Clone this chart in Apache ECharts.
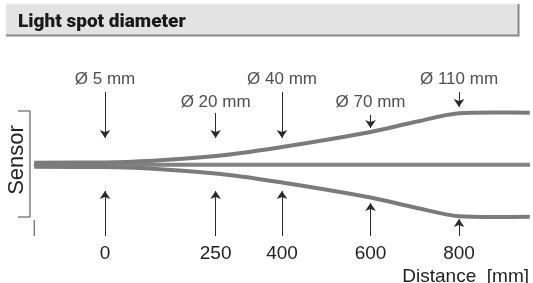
<!DOCTYPE html>
<html>
<head>
<meta charset="utf-8">
<script src="https://cdn.jsdelivr.net/npm/echarts@6/dist/echarts.min.js"></script>
<style>
  html, body { margin: 0; padding: 0; background: #fff; }
  #spot-chart { width: 533px; height: 283px; }
</style>
</head>
<body>
<div id="spot-chart"></div>
<script>
  // distance from sensor [mm] and half of the spot diameter [mm]
  const distance = [-160, 0, 250, 400, 600, 700, 800, 880, 960]
  const spotRadius = [2.2, 2.4, 9.2, 18.7, 34.5, 45, 54.2, 55, 54.8]

  // marked distances with their spot diameter
  const markDistance = [0, 250, 400, 600, 800]
  const markLabels = ['Ø 5 mm', 'Ø 20 mm', 'Ø 40 mm', 'Ø 70 mm', 'Ø 110 mm']
  const labelLevel = [90.3, 66, 90.3, 66, 90.3]
  const arrowTopStart = [76.6, 54.5, 76.6, 52.4, 76.6]
  const arrowTopTip = [28.2, 28.2, 28.2, 38.7, 60.8]
  const arrowBottomTip = [-27.6, -27.6, -27.6, -40.3, -57.1]

  const tickLabels = [0, 250, 400, 600, 800]

  const font = 'Liberation Sans, Arial, sans-serif'
  const lineGrey = '#7b7b7b'

  const upper = distance.map((d, i) => [d, spotRadius[i]])
  const lower = distance.map((d, i) => [d, -spotRadius[i]])
  const axisLine = distance.map(d => [d, 0])

  const arrows = []
  markDistance.forEach((d, i) => {
    arrows.push({ coords: [[d, arrowTopStart[i]], [d, arrowTopTip[i]]] })
    arrows.push({ coords: [[d, -75], [d, arrowBottomTip[i]]] })
  })

  const chart = echarts.init(document.getElementById('spot-chart'))

  const option = {
    animation: false,
    title: [
      {
        text: 'Light spot diameter',
        left: 13,
        top: 8,
        textStyle: { fontFamily: 'Roboto, sans-serif', fontWeight: 900, fontSize: 19, color: '#1a1a1a' }
      },
      {
        text: 'Distance  [mm]',
        right: 4,
        top: 267,
        padding: 0,
        textStyle: { fontFamily: font, fontWeight: 'normal', fontSize: 19, color: '#222' }
      }
    ],
    graphic: [
      {
        type: 'rect',
        z: -1,
        shape: { x: 6, y: 4, width: 513, height: 32 },
        style: { fill: '#e3e3e3', stroke: '#f0f0f0', lineWidth: 1 }
      },
      {
        type: 'polyline',
        z: -1,
        shape: { points: [[6, 35.5], [518.5, 35.5], [518.5, 4]] },
        style: { fill: null, stroke: '#8a8a8a', lineWidth: 2 }
      },
      {
        type: 'text',
        x: 17,
        y: 160,
        rotation: Math.PI / 2,
        style: {
          text: 'Sensor',
          font: '22px ' + font,
          fill: '#222',
          align: 'center',
          verticalAlign: 'middle'
        }
      }
    ],
    grid: { left: 34.2, width: 495.6, top: 74.5, height: 161.5 },
    xAxis: {
      type: 'value',
      min: -160,
      max: 960,
      interval: 10,
      splitLine: { show: false },
      axisTick: { show: false },
      axisLine: { lineStyle: { color: '#333', width: 1 } },
      axisLabel: {
        margin: 8,
        fontFamily: font,
        fontSize: 19,
        color: '#222',
        formatter: v => (tickLabels.includes(v) ? String(v) : '')
      }
    },
    yAxis: {
      type: 'value',
      min: -75,
      max: 95,
      show: false
    },
    series: [
      {
        type: 'line',
        data: axisLine,
        symbol: 'none',
        lineStyle: { color: '#808284', width: 4 }
      },
      {
        type: 'line',
        data: upper,
        smooth: 0.3,
        symbol: 'none',
        lineStyle: { color: lineGrey, width: 4 }
      },
      {
        type: 'line',
        data: lower,
        smooth: 0.3,
        symbol: 'none',
        lineStyle: { color: lineGrey, width: 4 }
      },
      {
        type: 'lines',
        coordinateSystem: 'cartesian2d',
        clip: false,
        symbol: ['none', 'arrow'],
        symbolSize: 8,
        lineStyle: { color: '#2a2a2a', width: 1, opacity: 1 },
        data: arrows
      },
      {
        // bracket next to the sensor and the start tick of the axis
        type: 'lines',
        coordinateSystem: 'cartesian2d',
        clip: false,
        symbol: 'none',
        polyline: true,
        lineStyle: { color: '#444', width: 1, opacity: 1 },
        data: [
          { coords: [[-196.6, 56.6], [-169.5, 56.6], [-169.5, -55], [-196.6, -55]] },
          { coords: [[-160, -58.2], [-160, -75]] }
        ]
      },
      {
        type: 'scatter',
        symbolSize: 0,
        silent: true,
        data: markDistance.map((d, i) => [d, labelLevel[i], markLabels[i]]),
        label: {
          show: true,
          position: 'inside',
          formatter: p => p.data[2],
          fontFamily: font,
          fontSize: 17,
          color: '#222'
        }
      }
    ]
  }

  chart.setOption(option)
</script>
</body>
</html>
